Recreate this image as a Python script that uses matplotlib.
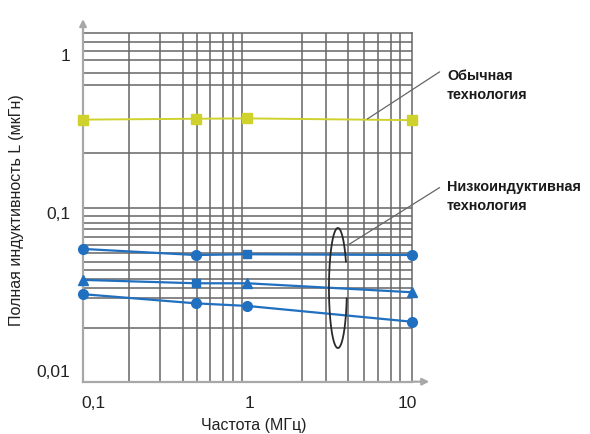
import numpy as np
import matplotlib
matplotlib.use("Agg")
import matplotlib.pyplot as plt

plt.rcParams["font.family"] = ["Liberation Sans", "DejaVu Sans"]

# Частота, МГц (положение точек на оси)
freq = [0.087, 0.45, 0.96, 10.7]

# Полная индуктивность, мкГн
obychnaya = [0.39, 0.395, 0.397, 0.387]
nizko_1 = [0.0592, 0.0542, 0.0548, 0.0542]
nizko_2 = [0.0377, 0.0359, 0.0359, 0.0315]
nizko_3 = [0.0306, 0.0268, 0.0258, 0.0205]

markers_1 = ["o", "o", "s", "o"]
markers_2 = ["^", "s", "^", "^"]
markers_3 = ["o", "o", "o", "o"]

x_ticks = [0.1, 1, 10]
x_ticklabels = ["0,1", "1", "10"]
y_ticks = [0.01, 0.1, 1]
y_ticklabels = ["0,01", "0,1", "1"]

# линии сетки (как на исходном рисунке, шаг неравномерный)
grid_x = [0.17, 0.267, 0.374, 0.46, 0.556, 0.673, 0.78, 0.889, 1,
          2.14, 3.05, 4.21, 5.32, 6.53, 7.91, 9.0, 10.0]
grid_y = [0.0188, 0.0289, 0.0334, 0.038, 0.0436, 0.0492, 0.0561, 0.0627,
          0.0702, 0.0788, 0.086, 0.096, 0.107, 0.24, 0.65, 0.77, 0.93,
          1.06, 1.21]

YELLOW = "#cfd22c"
BLUE = "#2170bf"
GRID = "#666666"
AXIS = "#a8a8a8"

fig = plt.figure(figsize=(5.9, 4.34), dpi=100)
ax = fig.add_axes([0.1407, 0.1205, 0.5576, 0.8034])
ax.set_xscale("log")
ax.set_yscale("log")
ax.set_xlim(0.0864, 10.76)
ax.set_ylim(0.00855, 1.378)

ax.set_xticks(x_ticks, labels=x_ticklabels)
ax.set_yticks(y_ticks, labels=y_ticklabels)
ax.set_xticks(grid_x, minor=True)
ax.set_yticks(grid_y, minor=True)
ax.xaxis.set_minor_formatter(matplotlib.ticker.NullFormatter())
ax.yaxis.set_minor_formatter(matplotlib.ticker.NullFormatter())
ax.tick_params(which="both", length=0, labelsize=12.5, colors="#222222")
ax.tick_params(axis="x", pad=10)
ax.tick_params(axis="y", pad=9)
ax.grid(which="minor", color=GRID, lw=1.1)
ax.grid(which="major", visible=False)
ax.set_axisbelow(True)

for s in ["top", "right"]:
    ax.spines[s].set_color(GRID)
    ax.spines[s].set_linewidth(1.1)
for s in ["left", "bottom"]:
    ax.spines[s].set_color(AXIS)
    ax.spines[s].set_linewidth(1.6)

# стрелки осей
arrow = dict(arrowstyle="-|>", color=AXIS, lw=1.6, mutation_scale=10)
ax.annotate("", xy=(1.061, 0), xytext=(0.99, 0), xycoords="axes fraction",
            arrowprops=arrow, annotation_clip=False)
ax.annotate("", xy=(0, 1.048), xytext=(0, 0.99), xycoords="axes fraction",
            arrowprops=arrow, annotation_clip=False)

# серии
ax.plot(freq, obychnaya, color=YELLOW, lw=1.4, marker="s", ms=6.5,
        clip_on=False, zorder=3)
for vals, mks in [(nizko_1, markers_1), (nizko_2, markers_2), (nizko_3, markers_3)]:
    ax.plot(freq, vals, color=BLUE, lw=1.6, clip_on=False, zorder=3)
    for xv, yv, m in zip(freq, vals, mks):
        ax.plot(xv, yv, marker=m, color=BLUE, ms=7 if m != "s" else 6,
                clip_on=False, zorder=4)

# эллипс вокруг низкоиндуктивных кривых (с разрывом справа)
xc, yc, rx, ry = 3.63, 0.0335, 0.057, 0.38
t = np.linspace(0, 2 * np.pi, 400)
ex = 10 ** (np.log10(xc) + rx * np.cos(t))
ey = 10 ** (np.log10(yc) + ry * np.sin(t))
gap = (t > 2 * np.pi - 0.17) | (t < 0.45)
ex = np.where(gap, np.nan, ex)
ax.plot(ex, ey, color="#2a2a2a", lw=1.3, zorder=5)

# выноски и подписи
lead = dict(arrowstyle="-", color="#666666", lw=0.9)
ax.annotate("", xy=(5.4, 0.385), xytext=(16.7, 0.80), arrowprops=lead,
            annotation_clip=False)
ax.annotate("", xy=(4.03, 0.061), xytext=(16.7, 0.148), arrowprops=lead,
            annotation_clip=False)
ax.text(18.0, 0.64, "Обычная\nтехнология", fontsize=10.4, fontweight="bold",
        va="center", ha="left", linespacing=1.4, color="#1a1a1a", clip_on=False)
ax.text(18.0, 0.127, "Низкоиндуктивная\nтехнология", fontsize=10.4,
        fontweight="bold", va="center", ha="left", linespacing=1.4,
        color="#1a1a1a", clip_on=False)

fig.text(254 / 590, 0.019, "Частота (МГц)", ha="center", va="center",
         fontsize=11.5, color="#222222")
fig.text(17 / 590, 0.516, "Полная индуктивность L (мкГн)", ha="center",
         va="center", rotation=90, fontsize=11.5, color="#222222")

fig.savefig("out.png", dpi=100)
